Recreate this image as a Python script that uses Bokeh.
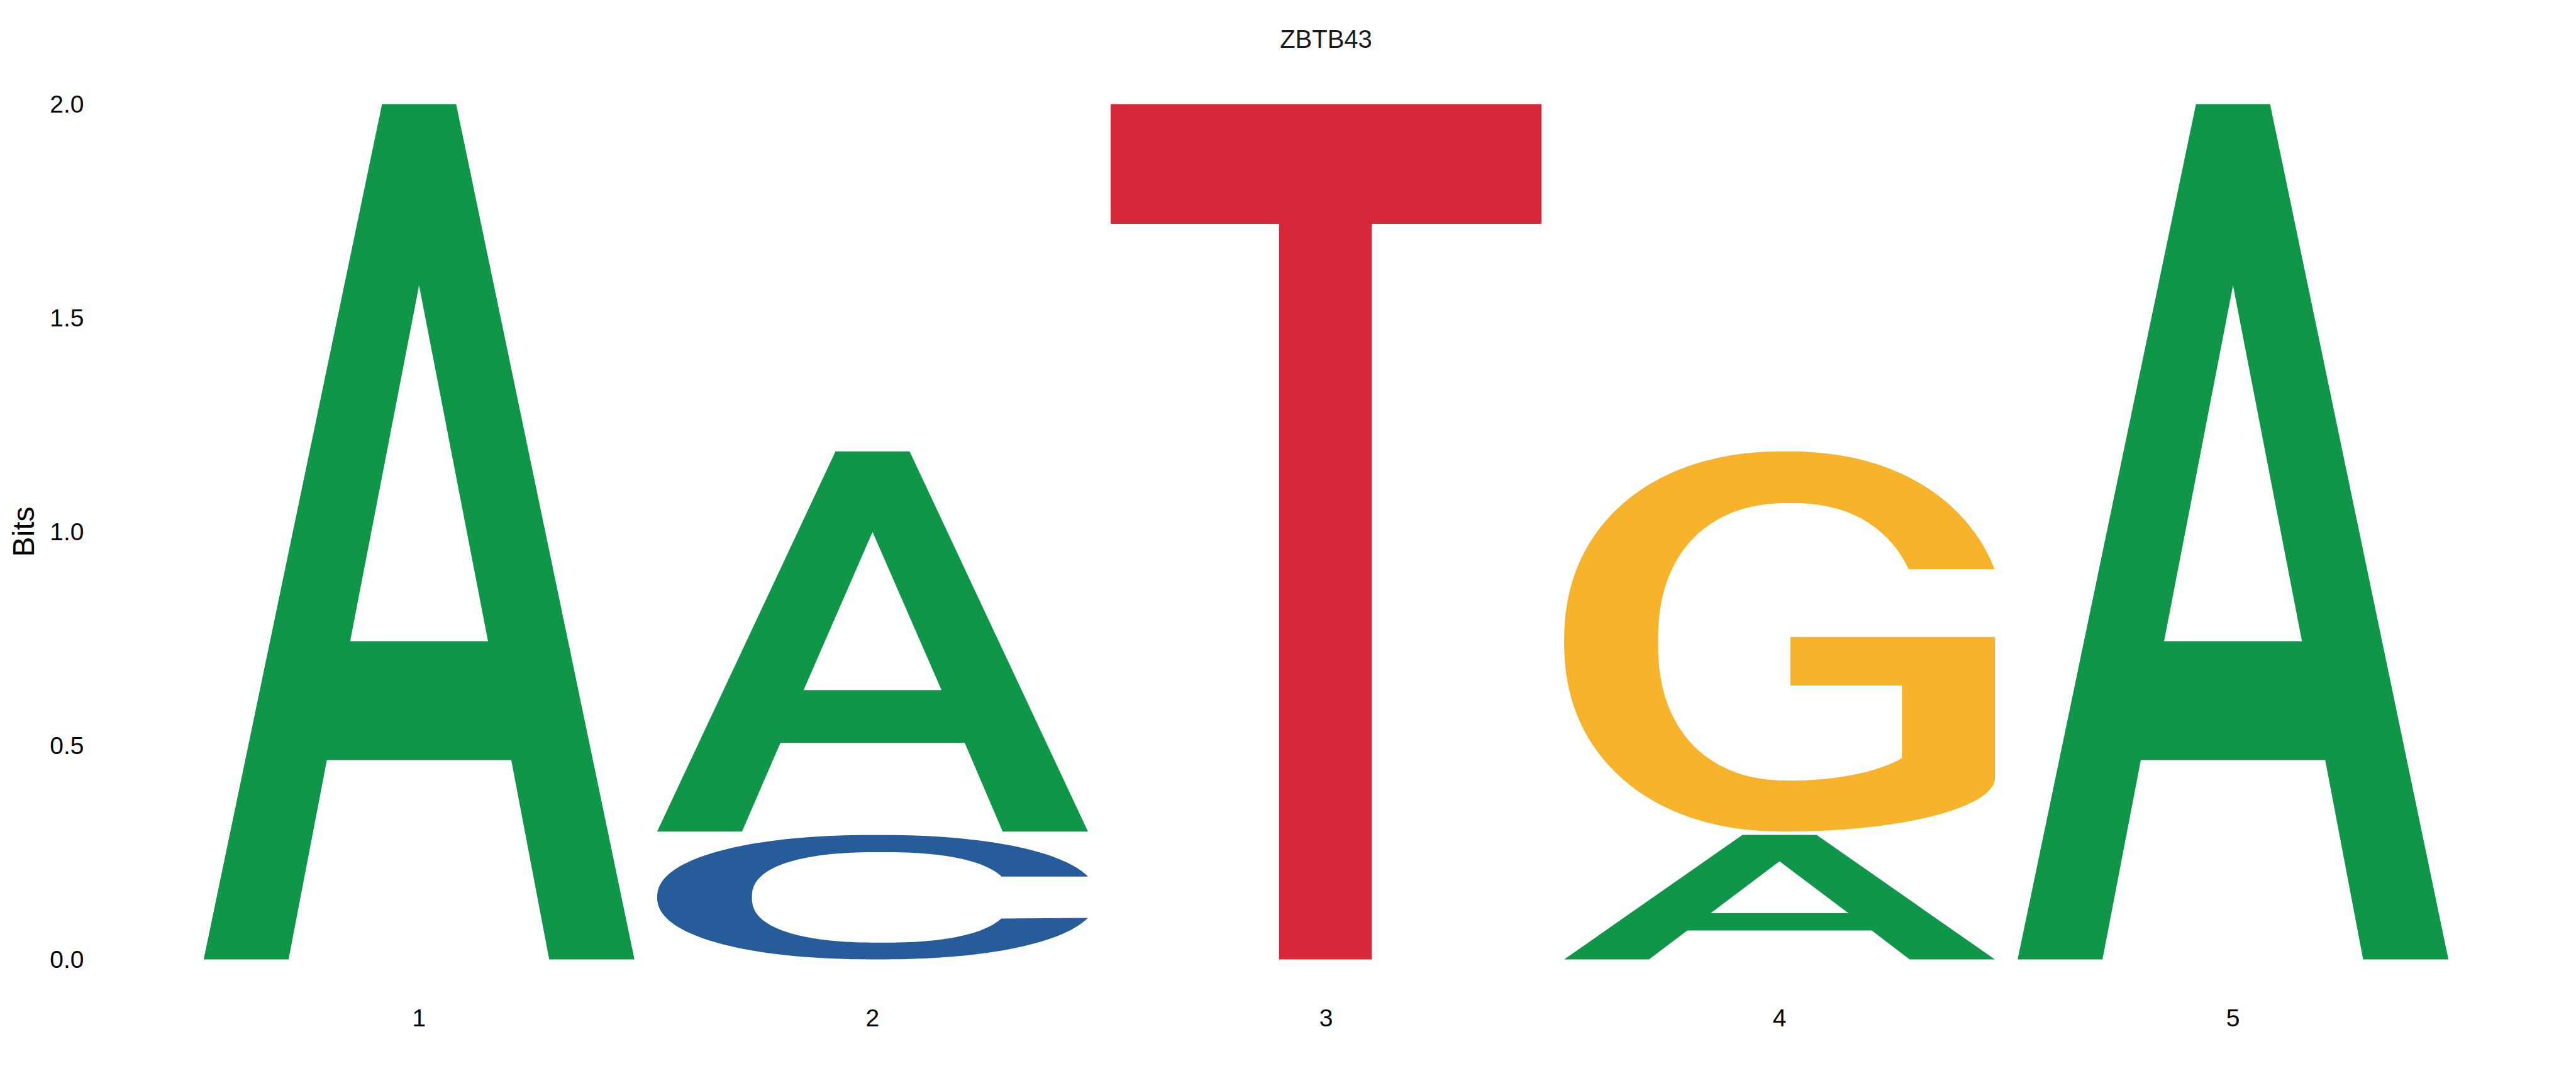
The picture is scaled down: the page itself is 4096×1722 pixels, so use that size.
import numpy as np
from bokeh.plotting import figure
from bokeh.models import FixedTicker, Range1d, ColumnDataSource, NumeralTickFormatter
from bokeh.embed import file_html
from bokeh.resources import INLINE

# ---------------- data ----------------
title_text = "ZBTB43"
y_axis_title = "Bits"
positions = [1, 2, 3, 4, 5]
x_tick_labels = ["1", "2", "3", "4", "5"]
y_ticks = [0.0, 0.5, 1.0, 1.5, 2.0]
y_tick_labels = ["0.0", "0.5", "1.0", "1.5", "2.0"]
# letters stacked bottom -> top at each position, with their heights (bits)
stack_letters = [["A"], ["C", "A"], ["T"], ["A", "G"], ["A"]]
stack_bits = [[2.0], [0.291, 0.889], [2.0], [0.291, 0.889], [2.0]]
letter_colors = {"A": "#109648", "C": "#255C99", "G": "#F7B32B", "T": "#D62839"}

# ---------------- glyph templates (unit box 0..1) ----------------
def se_arc(cx, cy, rx, ry, n, t0, t1, num=160):
    t = np.linspace(t0, t1, num)
    c, s = np.cos(t), np.sin(t)
    x = cx + rx * np.sign(c) * np.abs(c) ** (2.0 / n)
    y = cy + ry * np.sign(s) * np.abs(s) ** (2.0 / n)
    return list(x), list(y)

def angle_for_y(cy, ry, n, y):
    d = (y - cy) / ry
    return float(np.arcsin(np.sign(d) * abs(d) ** (n / 2.0)))

def glyph_A():
    ox = [0.0, 0.197, 0.286, 0.714, 0.802, 1.0, 0.586, 0.414]
    oy = [0.0, 0.0, 0.233, 0.233, 0.0, 0.0, 1.0, 1.0]
    hx = [0.340, 0.660, 0.500]
    hy = [0.372, 0.372, 0.788]
    return [[ox, hx]], [[oy, hy]]

def glyph_T():
    x = [0.0, 1.0, 1.0, 0.606, 0.606, 0.391, 0.391, 0.0]
    y = [1.0, 1.0, 0.860, 0.860, 0.0, 0.0, 0.860, 0.860]
    return [[x]], [[y]]

def glyph_C():
    n_o, n_i = 2.2, 2.4
    ocx, ocy, orx, ory = 0.5105, 0.5, 0.5105, 0.5
    tu = angle_for_y(ocy, ory, n_o, 0.666)
    x1, y1 = se_arc(ocx, ocy, orx, ory, n_o, tu, 2 * np.pi - tu)
    icx, icy, irx, iry = 0.52, 0.4985, 0.30, 0.3635
    ti_up = angle_for_y(icy, iry, n_i, 0.666)
    ti_lo = angle_for_y(icy, iry, n_i, 0.329)
    x2, y2 = se_arc(icx, icy, irx, iry, n_i, ti_lo, ti_up - 2 * np.pi)
    x = [min(v, 1.0) for v in x1] + x2
    y = y1 + y2
    return [[x]], [[y]]

def glyph_G():
    n_o, n_i = 2.2, 2.3
    ocx, ocy, orx, ory = 0.514, 0.5, 0.514, 0.5
    t0 = angle_for_y(ocy, ory, n_o, 0.69)
    x1, y1 = se_arc(ocx, ocy, orx, ory, n_o, t0, 1.5 * np.pi)
    x2, y2 = se_arc(0.514, 0.141, 0.486, 0.141, 2.0, 1.5 * np.pi, 2 * np.pi, 80)
    x3 = [1.0, 0.525, 0.525, 0.784, 0.784]
    y3 = [0.512, 0.512, 0.384, 0.384, 0.193]
    ts = float(np.arctan2(-0.532, 0.847))
    x4, y4 = se_arc(0.525, 0.26, 0.306, 0.126, 2.0, ts, -0.5 * np.pi, 60)
    icx, icy, irx, iry = 0.525, 0.499, 0.307, 0.365
    tc = angle_for_y(icy, iry, n_i, 0.69)
    x5, y5 = se_arc(icx, icy, irx, iry, n_i, -0.5 * np.pi, tc - 2 * np.pi)
    x = [min(v, 1.0) for v in x1] + x2 + x3 + x4 + x5
    y = y1 + y2 + y3 + y4 + y5
    return [[x]], [[y]]

templates = {"A": glyph_A(), "C": glyph_C(), "G": glyph_G(), "T": glyph_T()}

letter_width = 0.95
stack_gap = 0.008

xs, ys, cols = [], [], []
for pos, letters, bits in zip(positions, stack_letters, stack_bits):
    base = 0.0
    for k, (L, h) in enumerate(zip(letters, bits)):
        if k > 0:
            base += stack_gap
        tx, ty = templates[L]
        gx = [[[pos - letter_width / 2 + u * letter_width for u in ring] for ring in poly] for poly in tx]
        gy = [[[base + v * h for v in ring] for ring in poly] for poly in ty]
        xs.append(gx)
        ys.append(gy)
        cols.append(letter_colors[L])
        base += h

src = ColumnDataSource(dict(xs=xs, ys=ys, color=cols))

# ---------------- figure ----------------
W, H = 4096, 1722
p = figure(width=W, height=H, output_backend="svg", toolbar_location=None,
           x_range=Range1d(0.3262, 5.6738), y_range=Range1d(-0.09559, 2.09559),
           min_border_left=180, min_border_right=60, min_border_top=100,
           min_border_bottom=132, title=title_text)
p.multi_polygons(xs="xs", ys="ys", fill_color="color", line_color=None, source=src)

FONT = "Liberation Sans"
p.title.align = "center"
p.title.text_font = FONT
p.title.text_font_size = "40px"
p.title.text_font_style = "normal"
p.title.text_color = "#1a1a1a"
p.title.standoff = 34

p.xgrid.visible = False
p.ygrid.visible = False
p.outline_line_color = None
p.background_fill_color = "white"
p.border_fill_color = "white"

for ax in (p.xaxis[0], p.yaxis[0]):
    ax.axis_line_color = None
    ax.major_tick_line_color = None
    ax.minor_tick_line_color = None
    ax.major_tick_out = 0
    ax.major_tick_in = 0
    ax.major_label_text_font = FONT
    ax.major_label_text_font_size = "39px"
    ax.major_label_text_color = "black"

p.xaxis.ticker = FixedTicker(ticks=positions)
p.xaxis.formatter = NumeralTickFormatter(format="0")
p.xaxis.major_label_overrides = {t: l for t, l in zip(positions, x_tick_labels)}
p.xaxis.major_label_standoff = 14

p.yaxis.ticker = FixedTicker(ticks=y_ticks)
p.yaxis.formatter = NumeralTickFormatter(format="0.0")
p.yaxis.major_label_overrides = {t: l for t, l in zip(y_ticks, y_tick_labels)}
p.yaxis.major_label_standoff = 47
p.yaxis.axis_label = y_axis_title
p.yaxis.axis_label_text_font = FONT
p.yaxis.axis_label_text_font_size = "48px"
p.yaxis.axis_label_text_font_style = "normal"
p.yaxis.axis_label_text_color = "black"
p.yaxis.axis_label_standoff = 12

open("out.html", "w").write(file_html(p, INLINE))
